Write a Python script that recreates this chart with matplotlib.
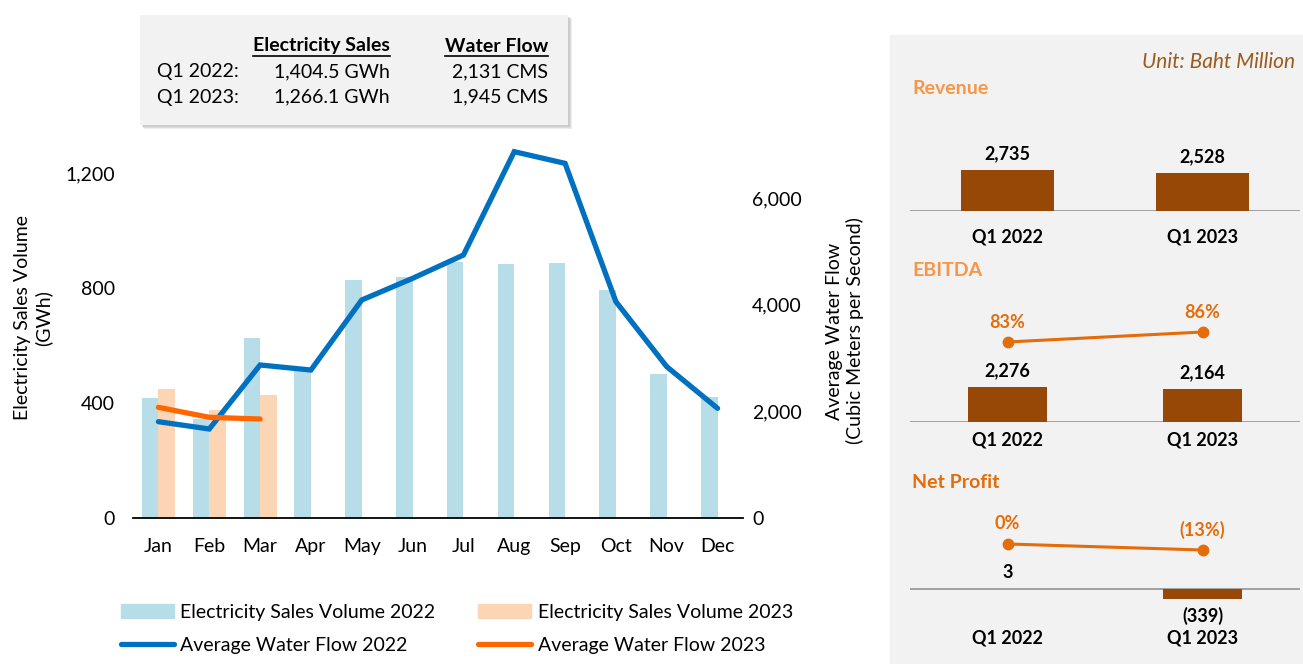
import matplotlib
matplotlib.use('Agg')
import matplotlib.pyplot as plt
from matplotlib.patches import Rectangle, Patch
from matplotlib.lines import Line2D
from matplotlib.ticker import FuncFormatter
import numpy as np

plt.rcParams['font.family'] = ['Lato', 'DejaVu Sans']

# monthly data
months = ['Jan', 'Feb', 'Mar', 'Apr', 'May', 'Jun', 'Jul', 'Aug', 'Sep', 'Oct', 'Nov', 'Dec']
sales_2022 = [416, 345, 625, 510, 828, 839, 892, 882, 888, 793, 501, 422]
sales_2023 = [449, 376, 428]
flow_2022 = [1806, 1669, 2869, 2775, 4088, 4494, 4931, 6869, 6650, 4056, 2838, 2056]
flow_2023 = [2075, 1888, 1856]

# summary box
summary_rows = ['Q1 2022:', 'Q1 2023:']
summary_sales = ['1,404.5 GWh', '1,266.1 GWh']
summary_flow = ['2,131 CMS', '1,945 CMS']

# financials (Baht million)
quarters = ['Q1 2022', 'Q1 2023']
revenue = [2735, 2528]
ebitda = [2276, 2164]
ebitda_margin = [83, 86]
net_profit = [3, -339]
net_margin = [0, -13]

W, H = 1303, 664
fig = plt.figure(figsize=(W / 100, H / 100), dpi=100)


def box(l, t, r, b):
    return [l / W, 1 - b / H, (r - l) / W, (b - t) / H]


def px2pt(p):
    return p * 72 / 100


BLUE_BAR = '#b7dde8'
PEACH_BAR = '#fcd5b5'
BLUE_LINE = '#0070c0'
ORANGE_LINE = '#ff6600'
BROWN = '#974706'
ORANGE = '#e46c0a'
FS = 14

# ---------------- main chart ----------------
ax = fig.add_axes(box(133, 140, 743, 518))
x = np.arange(len(months))
bw = 0.325
ax.bar(x - bw / 2, sales_2022, bw, color=BLUE_BAR, zorder=2)
ax.bar(x[:len(sales_2023)] + bw / 2, sales_2023, bw, color=PEACH_BAR, zorder=2)
ax.set_xlim(-0.5, 11.5)
ax.set_ylim(0, 1315)
ax.set_yticks([0, 400, 800, 1200])
ax.yaxis.set_major_formatter(FuncFormatter(lambda v, p: f'{v:,.0f}'))
ax.set_xticks(x)
ax.set_xticklabels(months)
for s in ['top', 'left', 'right']:
    ax.spines[s].set_visible(False)
ax.spines['bottom'].set_color('black')
ax.spines['bottom'].set_linewidth(1.3)
ax.tick_params(axis='y', length=0, labelsize=FS, pad=px2pt(18))
ax.tick_params(axis='x', length=0, labelsize=FS, pad=px2pt(20))

ax2 = ax.twinx()
ax2.plot(x, flow_2022, color=BLUE_LINE, lw=3.8, solid_capstyle='round', solid_joinstyle='miter')
ax2.plot(x[:len(flow_2023)], flow_2023, color=ORANGE_LINE, lw=3.8, solid_capstyle='round')
ax2.set_ylim(0, 7088)
ax2.set_yticks([0, 2000, 4000, 6000])
ax2.yaxis.set_major_formatter(FuncFormatter(lambda v, p: f'{v:,.0f}'))
for s in ax2.spines.values():
    s.set_visible(False)
ax2.tick_params(axis='y', length=0, labelsize=FS, pad=px2pt(9))

fig.text(33 / W, 1 - 318 / H, 'Electricity Sales Volume\n(GWh)', rotation=90,
         ha='center', va='center', multialignment='center', fontsize=FS)
fig.text(845 / W, 1 - 331 / H, 'Average Water Flow\n(Cubic Meters per Second)', rotation=90,
         ha='center', va='center', multialignment='center', fontsize=FS)

handles = [Patch(color=BLUE_BAR), Line2D([], [], color=BLUE_LINE, lw=3.8, solid_capstyle='round'),
           Patch(color=PEACH_BAR), Line2D([], [], color=ORANGE_LINE, lw=3.8, solid_capstyle='round')]
labels = ['Electricity Sales Volume 2022', 'Average Water Flow 2022',
          'Electricity Sales Volume 2023', 'Average Water Flow 2023']
fig.legend(handles, labels, ncol=2, loc='upper left', bbox_to_anchor=(121 / W, 1 - 604 / H),
           frameon=False, fontsize=FS, handlelength=2.7, handleheight=0.75, handletextpad=0.35,
           columnspacing=2.2, labelspacing=0.8, borderpad=0, borderaxespad=0)

# ---------------- summary box ----------------
for k, (c, a) in enumerate([('#bdbdbd', 0.25), ('#bdbdbd', 0.35), ('#bdbdbd', 0.5)]):
    d = 4 - k
    fig.add_artist(Rectangle(((140 + d) / W, 1 - (125 + d) / H), (568 - 140) / W, 110 / H,
                             transform=fig.transFigure, color=c, alpha=a, lw=0, zorder=1))
fig.add_artist(Rectangle((140 / W, 1 - 125 / H), (568 - 140) / W, 110 / H, transform=fig.transFigure,
                         color='#f2f2f2', lw=0, zorder=1))
hdr1 = fig.text(390 / W, 1 - 46 / H, 'Electricity Sales', ha='right', va='center', fontsize=14,
                fontweight='bold', zorder=3)
hdr2 = fig.text(548 / W, 1 - 46 / H, 'Water Flow', ha='right', va='center', fontsize=14,
                fontweight='bold', zorder=3)
for i, (r, s, f) in enumerate(zip(summary_rows, summary_sales, summary_flow)):
    yy = 1 - (72 + 25 * i) / H
    fig.text(157 / W, yy, r, ha='left', va='center', fontsize=14, zorder=3)
    fig.text(390 / W, yy, s, ha='right', va='center', fontsize=14, zorder=3)
    fig.text(548 / W, yy, f, ha='right', va='center', fontsize=14, zorder=3)

fig.canvas.draw()
renderer = fig.canvas.get_renderer()
for t in (hdr1, hdr2):
    bb = t.get_window_extent(renderer)
    fig.add_artist(Line2D([bb.x0 / W, bb.x1 / W], [(bb.y0 - 1) / H] * 2, transform=fig.transFigure,
                          color='black', lw=1.2, zorder=3))

# ---------------- right panel ----------------
fig.add_artist(Rectangle((890 / W, 0), (W - 890) / W, (H - 35) / H, transform=fig.transFigure,
                         color='#f2f2f2', zorder=-5))
fig.text(1295 / W, 1 - 62 / H, 'Unit: Baht Million', ha='right', va='center', fontsize=15,
         style='italic', color='#9c5a1c')


def panel(rect, title, title_y, title_color, vals, ylim, bar_w, margins=None, tlim=None, cat_pad=18):
    a = fig.add_axes(box(*rect))
    a.set_facecolor('none')
    q = np.arange(len(vals))
    a.bar(q, vals, bar_w, color=BROWN, zorder=2)
    a.axhline(0, color='#8c8c8c', lw=1.1, zorder=1)
    a.set_xlim(-0.5, 1.5)
    a.set_ylim(*ylim)
    for s in a.spines.values():
        s.set_visible(False)
    a.set_yticks([])
    a.set_xticks(q)
    a.set_xticklabels(quarters, fontsize=13, fontweight='bold')
    a.tick_params(axis='x', length=0, pad=px2pt(cat_pad))
    for i, v in enumerate(vals):
        txt = f'{v:,}' if v >= 0 else f'({-v:,})'
        off = 16 if v >= 0 else -17
        a.annotate(txt, (i, v), xytext=(0, px2pt(off)), textcoords='offset points',
                   ha='center', va='center', fontsize=13, fontweight='bold')
    if margins is not None:
        b = a.twinx()
        b.set_facecolor('none')
        b.plot(q, margins, color=ORANGE, lw=2.2, marker='o', markersize=7.5, zorder=3)
        b.set_ylim(*tlim)
        b.set_yticks([])
        for s in b.spines.values():
            s.set_visible(False)
        for i, v in enumerate(margins):
            txt = f'{v}%' if v >= 0 else f'({-v}%)'
            b.annotate(txt, (i, v), xytext=(0, px2pt(20)), textcoords='offset points',
                       ha='center', va='center', fontsize=13, fontweight='bold', color=ORANGE)
    fig.text(912 / W, 1 - title_y / H, title, ha='left', va='center', fontsize=14,
             fontweight='bold', color=title_color)
    return a


panel((910, 140, 1300, 211), 'Revenue', 88, '#f79646', revenue, (0, 4736), 0.477)
panel((910, 300, 1300, 422), 'EBITDA', 271, '#f79646', ebitda, (0, 7933), 0.405,
      ebitda_margin, (59, 95.6), cat_pad=9)
panel((910, 500, 1300, 610), 'Net Profit', 482, ORANGE, net_profit, (-712, 3017), 0.405,
      net_margin, (-143, 95.3), cat_pad=20)

fig.savefig('out.png', dpi=100)
